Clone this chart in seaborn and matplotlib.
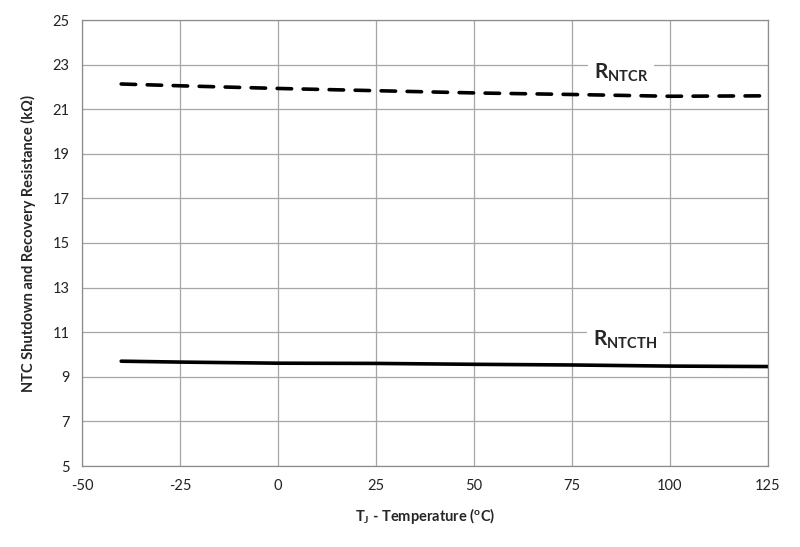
import matplotlib
matplotlib.use("Agg")
import matplotlib.pyplot as plt
import seaborn as sns
import pandas as pd

temps = [-40, -25, 0, 25, 50, 75, 100, 125]
r_ntcr = [22.13, 22.05, 21.93, 21.83, 21.73, 21.66, 21.58, 21.60]
r_ntcth = [9.70, 9.66, 9.61, 9.60, 9.56, 9.53, 9.48, 9.46]
series_names = ["R$_{NTCR}$", "R$_{NTCTH}$"]
x_ticks = [-50, -25, 0, 25, 50, 75, 100, 125]
y_ticks = [5, 7, 9, 11, 13, 15, 17, 19, 21, 23, 25]

sns.set_style("whitegrid")
plt.rcParams["font.family"] = ["Lato", "DejaVu Sans"]
plt.rcParams["mathtext.fontset"] = "custom"
plt.rcParams["mathtext.rm"] = "Lato:bold"
plt.rcParams["mathtext.bf"] = "Lato:bold"
plt.rcParams["mathtext.default"] = "bf"

df = pd.DataFrame({
    "T": temps * 2,
    "R": r_ntcr + r_ntcth,
    "series": [series_names[0]] * len(temps) + [series_names[1]] * len(temps),
})

fig = plt.figure(figsize=(8, 5.47), dpi=100)
ax = fig.add_axes([82 / 800, 1 - 466 / 547, (768 - 82) / 800, (466 - 20) / 547])

sns.lineplot(data=df[df.series == series_names[0]], x="T", y="R", ax=ax,
             color="black", linewidth=2.6, linestyle=(0, (4, 3.2)),
             dash_capstyle="round", legend=False)
sns.lineplot(data=df[df.series == series_names[1]], x="T", y="R", ax=ax,
             color="black", linewidth=2.6, legend=False)

ax.set_xlim(-50, 125)
ax.set_ylim(5, 25)
ax.set_xticks(x_ticks)
ax.set_yticks(y_ticks)
ax.set_xticklabels([str(v) for v in x_ticks])
ax.set_yticklabels([str(v) for v in y_ticks])
ax.tick_params(axis="both", labelsize=10.5, colors="#222222", length=0, pad=9)
ax.grid(True, color="#a6a6a6", linewidth=0.9)
for s in ax.spines.values():
    s.set_color("#8c8c8c")
    s.set_linewidth(0.9)

ax.set_xlabel("T$_J$ - Temperature ($^o$C)", fontsize=10.5, fontweight="bold", labelpad=10)
ax.set_ylabel("NTC Shutdown and Recovery Resistance (k\u03a9)", fontsize=10.5,
              fontweight="bold", labelpad=12)

box = dict(facecolor="white", edgecolor="none", pad=4)
ax.text(87.5, 22.65, series_names[0], fontsize=15, fontweight="bold",
        ha="center", va="center", bbox=box)
ax.text(88.5, 10.65, series_names[1], fontsize=15, fontweight="bold",
        ha="center", va="center", bbox=box)

fig.savefig("out.png", dpi=100, facecolor="white")
